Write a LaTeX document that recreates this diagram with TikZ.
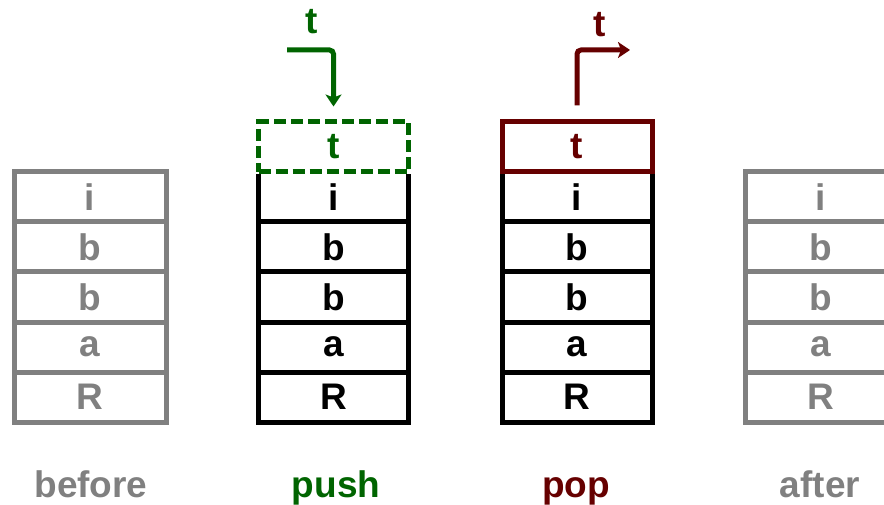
\documentclass[tikz,border=0pt]{standalone}
\usepackage{fontspec}
\setmainfont{Liberation Sans}
\usetikzlibrary{arrows.meta}
\definecolor{pgreen}{RGB}{0,100,0}
\definecolor{pred}{RGB}{102,0,0}
\definecolor{sgray}{RGB}{128,128,128}
\begin{document}
\begin{tikzpicture}[x=1pt,y=-1pt,
  txt/.style={font=\fontsize{37}{40}\selectfont\bfseries, inner sep=0pt},
  cell/.style={txt, draw, line width=5pt, minimum height=50pt, anchor=center},
  lbl/.style={txt, anchor=base},
  arr/.style={line width=5pt, rounded corners=4pt, -{Stealth[length=12pt,width=16pt,inset=3pt]}}]
\useasboundingbox (0,0) rectangle (884,505);
\foreach \s/\x/\c/\w in {be/90/sgray/152, pu/333.5/black/150, po/577/black/150, af/821/sgray/152}{
  \foreach \n/\y/\t in {1/197/i, 2/247/b, 3/297/b, 4/347/a, 5/397/R}{
    \node[cell, draw=\c, text=\c, minimum width=\w pt] (\s\n) at (\x,\y) {\t};
  }
}
% push
\node[cell, minimum width=150pt, draw=pgreen, text=pgreen, dash pattern=on 12pt off 5pt,
      preaction={draw=white, solid}] (put) at (333.5,147) {t};
\coordinate (pustart) at (287,50);
\draw[arr, pgreen] (pustart) -| ([yshift=13pt]put.north);
\node[lbl, text=pgreen] (pulbl) at (312,34) {t};
% pop
\node[cell, minimum width=150pt, draw=pred, text=pred] (pot) at (577,147) {t};
\coordinate (poend) at (630,50);
\draw[arr, pred] ([yshift=14pt]pot.north) |- (poend);
\node[lbl, text=pred] (polbl) at (600,37) {t};
% labels
\node[lbl, text=sgray] (bel) at (91,497) {before};
\node[lbl, text=pgreen] (pul) at (336,497) {push};
\node[lbl, text=pred] (pol) at (576,497) {pop};
\node[lbl, text=sgray] (afl) at (820,497) {after};
\end{tikzpicture}
\end{document}
